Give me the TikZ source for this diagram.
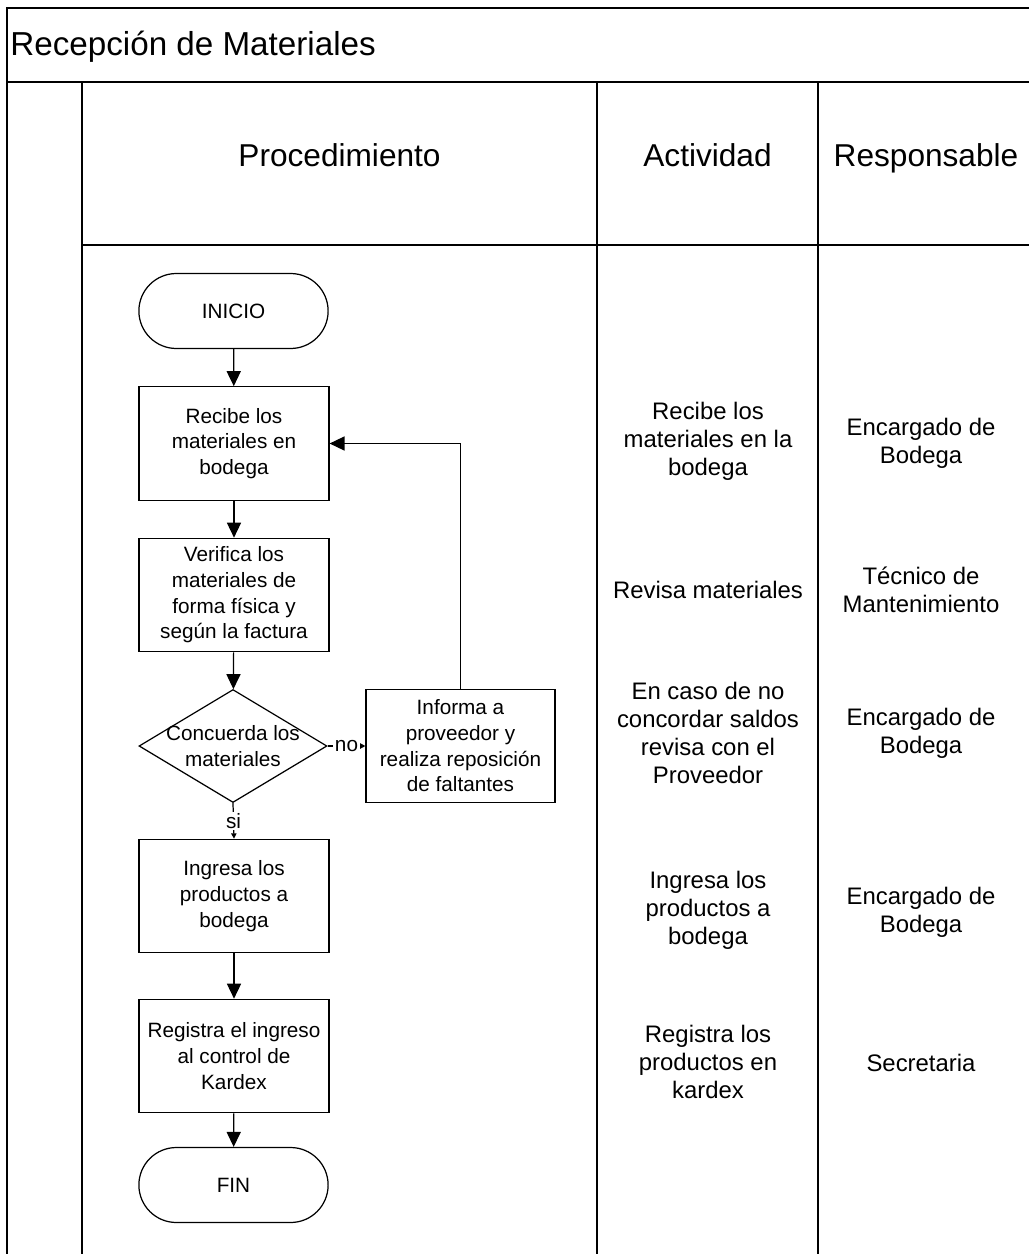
\documentclass[tikz,border=0pt]{standalone}
\usepackage{fontspec}
\setmainfont{Liberation Sans}
\usepackage{tikz}
\usetikzlibrary{arrows.meta, shapes.geometric, shapes.misc}

\tikzset{
  frame/.style={line width=0.9pt},
  proc/.style={draw, line width=0.7pt, minimum width=3.8cm, minimum height=2.27cm, align=center, font=\fontsize{11.8}{14.6}\selectfont},
  term/.style={draw, rounded rectangle, line width=0.7pt, minimum width=4.02cm, minimum height=1.5cm, font=\fontsize{11.8}{14.6}\selectfont},
  decision/.style={draw, diamond, line width=0.7pt, minimum width=3.76cm, minimum height=2.26cm, inner sep=0pt},
  flowtxt/.style={align=center, font=\fontsize{11.8}{14.6}\selectfont},
  acttxt/.style={align=center, font=\fontsize{13.6}{15.9}\selectfont},
  headtxt/.style={anchor=base, font=\fontsize{18}{22}\selectfont},
  flow/.style={line width=0.7pt, -{Triangle[length=8.5pt,width=8pt]}},
  flowsmall/.style={line width=0.7pt, -{Triangle[length=3pt,width=3pt]}},
  answer/.style={fill=white, inner sep=1pt, font=\fontsize{11.8}{14}\selectfont},
}

\begin{document}
\begin{tikzpicture}[x=0.02cm, y=-0.02cm]
        \useasboundingbox (0,0) rectangle (1029,1254);
        % Frame and columns
        \draw[frame] (7,1254) -- (7,8) -- (1029,8);
        \draw[frame] (7,82) -- (1029,82);
        \draw[frame] (82,82) -- (82,1254);
        \draw[frame] (597,82) -- (597,1254);
        \draw[frame] (818,82) -- (818,1254);
        \draw[frame] (82,245) -- (1029,245);
        % Title and headers
        \node[anchor=base west, inner sep=0pt, font=\fontsize{18.9}{22}\selectfont] (title) at (10,55) {Recepción de Materiales};
        \node[headtxt] (hproc) at (339.5,166) {Procedimiento};
        \node[headtxt] (hact) at (707.5,166) {Actividad};
        \node[headtxt] (hresp) at (926,166) {Responsable};
        % Flowchart
        \node[term] (ini) at (233.5,311) {INICIO};
        \node[proc] (rec) at (234,443.5) {Recibe los\\materiales en\\bodega};
        \node[proc] (ver) at (234,595) {Verifica los\\materiales de\\forma física y\\según la factura};
        \node[decision] (dec) at (233,746) {};
        \node[flowtxt] (dectxt) at (dec) {Concuerda los\\materiales};
        \node[proc, minimum width=3.78cm] (inf) at (460.5,746) {Informa a\\proveedor y\\realiza reposición\\de faltantes};
        \node[proc] (ing) at (234,896) {Ingresa los\\productos a\\bodega};
        \node[proc] (reg) at (234,1056) {Registra el ingreso\\al control de\\Kardex};
        \node[term] (fin) at (233.5,1185) {FIN};
        % Connectors
        \draw[flow] (ini) -- (rec);
        \draw[flow] (rec) -- (ver);
        \draw[flow] (ver) -- (dec);
        \draw[flowsmall] (dec.east) -- node[answer] (no) {no} (inf.west);
        \draw[flow] (inf.north) |- (rec.east);
        \draw[flowsmall] (dec.south) -- node[answer] (si) {si} (ing.north);
        \draw[flow] (ing) -- (reg);
        \draw[flow] (reg) -- (fin);
        % Actividad
        \node[acttxt] (a1) at (708,441) {Recibe los\\materiales en la\\bodega};
        \node[acttxt] (a2) at (708,590) {Revisa materiales};
        \node[acttxt] (a3) at (708,733) {En caso de no\\concordar saldos\\revisa con el\\Proveedor};
        \node[acttxt] (a4) at (708,910) {Ingresa los\\productos a\\bodega};
        \node[acttxt] (a5) at (708,1062) {Registra los\\productos en\\kardex};
        % Responsable
        \node[acttxt] (r1) at (921,443) {Encargado de\\Bodega};
        \node[acttxt] (r2) at (921,590) {Técnico de\\Mantenimiento};
        \node[acttxt] (r3) at (921,733) {Encargado de\\Bodega};
        \node[acttxt] (r4) at (921,912) {Encargado de\\Bodega};
        \node[acttxt] (r5) at (921,1063) {Secretaria};
    \end{tikzpicture}
\end{document}
